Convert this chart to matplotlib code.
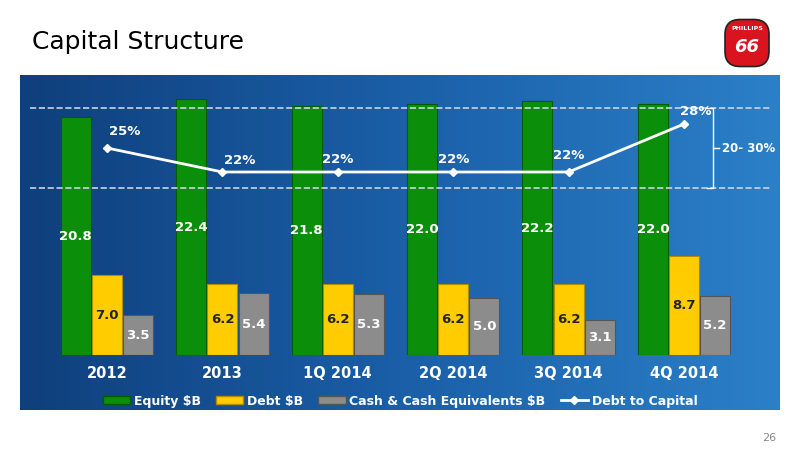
import matplotlib
matplotlib.use("Agg")
import matplotlib.pyplot as plt
import numpy as np
from matplotlib.patches import FancyBboxPatch, Patch
from matplotlib.lines import Line2D
from matplotlib.colors import LinearSegmentedColormap

categories = ["2012", "2013", "1Q 2014", "2Q 2014", "3Q 2014", "4Q 2014"]
equity = [20.8, 22.4, 21.8, 22.0, 22.2, 22.0]
debt = [7.0, 6.2, 6.2, 6.2, 6.2, 8.7]
cash = [3.5, 5.4, 5.3, 5.0, 3.1, 5.2]
debt_to_capital = [25, 22, 22, 22, 22, 28]

W, H = 800, 450
fig = plt.figure(figsize=(8, 4.5), dpi=100)
fig.patch.set_facecolor("white")

def rect(l, t, r, b):
    return [l / W, 1 - b / H, (r - l) / W, (b - t) / H]

bg = fig.add_axes(rect(20, 75, 780, 410))
grad = np.linspace(0, 1, 256)[None, :]
cmap = LinearSegmentedColormap.from_list("b", ["#0f3f7c", "#1a5fa8", "#2b80c8"])
bg.imshow(grad, aspect="auto", cmap=cmap, extent=[0, 1, 0, 1])
bg.axis("off")

fig.text(32 / W, 1 - 42 / H, "Capital Structure", fontsize=18, color="black", va="center", ha="left")
fig.text(776 / W, 1 - 438 / H, "26", fontsize=8, color="#888888", ha="right", va="center")

lg = fig.add_axes(rect(722, 18, 772, 68))
lg.axis("off")
lg.set_xlim(0, 1); lg.set_ylim(0, 1)
lg.add_patch(FancyBboxPatch((0.08, 0.05), 0.84, 0.9, boxstyle="round,pad=0.02,rounding_size=0.3",
                            fc="#d9141e", ec="#222222", lw=1.2))
lg.text(0.5, 0.78, "PHILLIPS", color="white", fontsize=4.5, ha="center", va="center", fontweight="bold")
lg.text(0.5, 0.42, "66", color="white", fontsize=13, ha="center", va="center", fontweight="bold", style="italic")

ax = fig.add_axes(rect(30, 90, 770, 355))
ax.patch.set_alpha(0)
x = np.arange(len(categories))
bw = 0.26
ax.bar(x - bw - 0.01, equity, bw, color="#0b8f0b", edgecolor="#055a05", lw=0.8)
ax.bar(x, debt, bw, color="#ffcc00", edgecolor="#b08c00", lw=0.8)
ax.bar(x + bw + 0.01, cash, bw, color="#8c8c8c", edgecolor="#555555", lw=0.8)
ax.set_xlim(-0.667, 5.745)
ax.set_ylim(0, 23.2)
for i in range(len(x)):
    ax.text(x[i] - bw - 0.01, equity[i] / 2, f"{equity[i]:.1f}", color="white", fontsize=9.5,
            fontweight="bold", ha="center", va="center")
    ax.text(x[i], debt[i] / 2, f"{debt[i]:.1f}", color="#222222", fontsize=9.5,
            fontweight="bold", ha="center", va="center")
    ax.text(x[i] + bw + 0.01, cash[i] / 2, f"{cash[i]:.1f}", color="white", fontsize=9.5,
            fontweight="bold", ha="center", va="center")
ax.set_xticks(x)
ax.set_xticklabels(categories, color="white", fontsize=10.5, fontweight="bold")
ax.tick_params(axis="x", length=0, pad=8)
ax.set_yticks([])
for s in ax.spines.values():
    s.set_visible(False)

ax2 = ax.twinx()
ax2.set_ylim(20 - (355 - 188) / 8, 20 + (188 - 90) / 8)
ax2.axis("off")
ax2.axhline(30, color="#c8d4e4", ls="--", lw=1.2)
ax2.axhline(20, color="#c8d4e4", ls="--", lw=1.2)
ax2.plot(x, debt_to_capital, color="white", lw=2, marker="D", ms=4)
offs = [(0.15, 1.3), (0.15, 0.6), (0.0, 0.8), (0.0, 0.8), (0.0, 1.3), (0.1, 0.8)]
for i, v in enumerate(debt_to_capital):
    ax2.text(x[i] + offs[i][0], v + offs[i][1], f"{v}%", color="white", fontsize=9.5,
             fontweight="bold", ha="center", va="bottom")
bx = 5.2
ax2.plot([bx, bx + 0.05, bx + 0.05, bx], [30, 30, 20, 20], color="white", lw=1, clip_on=False)
ax2.plot([bx + 0.05, bx + 0.1], [25, 25], color="white", lw=1, clip_on=False)
ax2.text(bx + 0.13, 25, "20- 30%", color="white", fontsize=8.5, fontweight="bold", va="center", ha="left")

handles = [Patch(fc="#0b8f0b", ec="#055a05"), Patch(fc="#ffcc00", ec="#b08c00"),
           Patch(fc="#8c8c8c", ec="#555555"),
           Line2D([], [], color="white", lw=2, marker="D", ms=4)]
labels = ["Equity $B", "Debt $B", "Cash & Cash Equivalents $B", "Debt to Capital"]
leg = fig.legend(handles, labels, loc="center", bbox_to_anchor=(400 / W, 1 - 401 / H), ncol=4,
                 frameon=False, fontsize=9, handlelength=2.2, handleheight=0.6, columnspacing=1.2,
                 handletextpad=0.3)
for t in leg.get_texts():
    t.set_color("white"); t.set_fontweight("bold")

fig.savefig("out.png", dpi=100)
